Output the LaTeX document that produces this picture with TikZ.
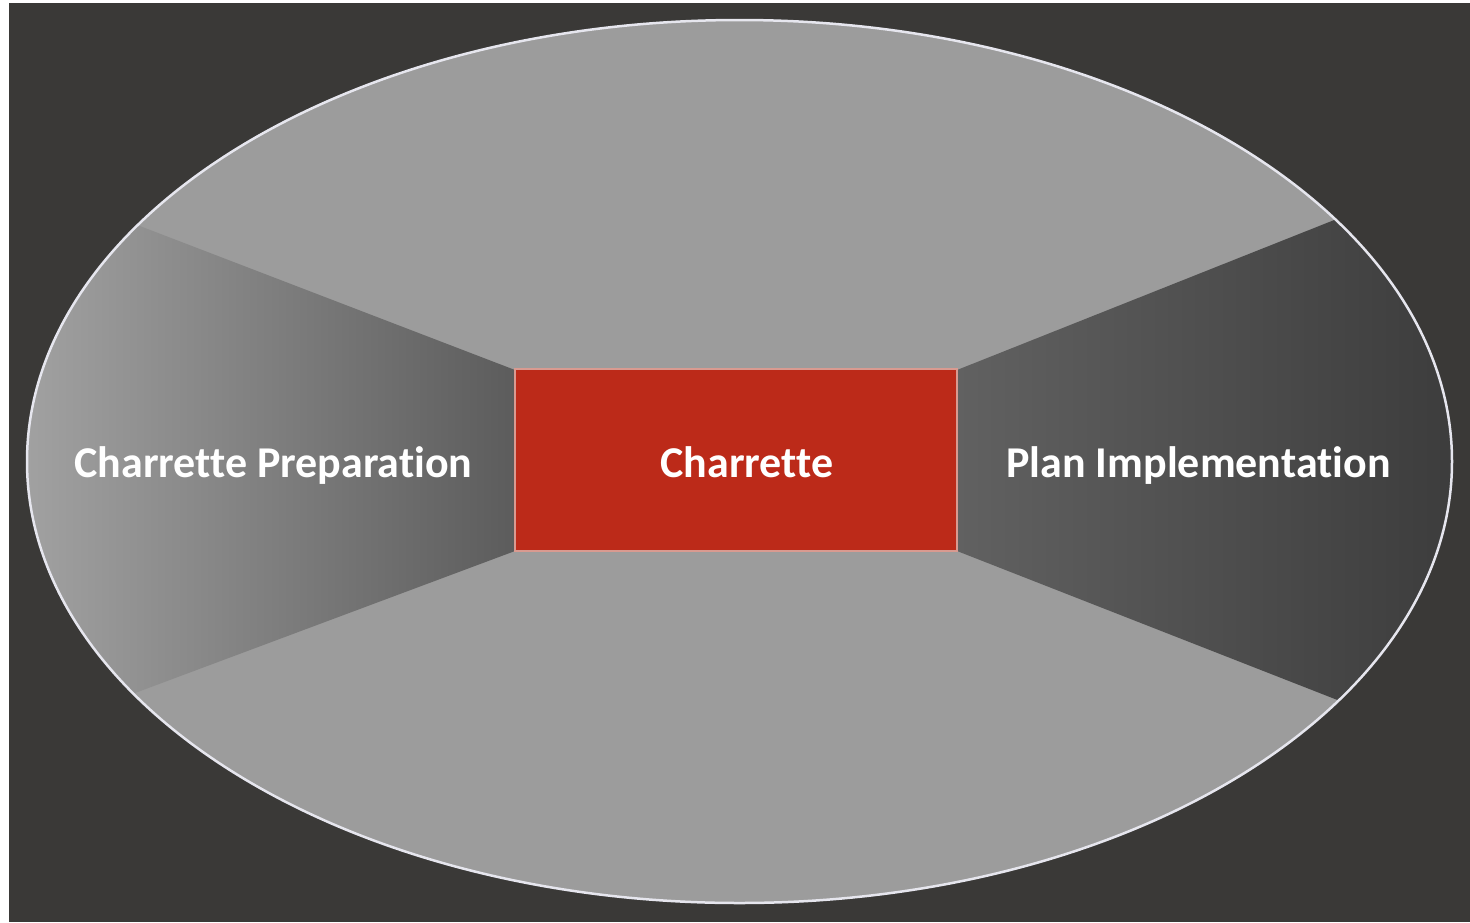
\documentclass[tikz,border=0pt]{standalone}
\usepackage{fontspec}
\setmainfont{Carlito}[Ligatures={NoCommon}]
\definecolor{bgdark}{HTML}{3A3937}
\definecolor{midgray}{HTML}{9C9C9C}
\definecolor{lpanelA}{HTML}{A2A2A2}
\definecolor{lpanelB}{HTML}{5C5C5C}
\definecolor{rpanelA}{HTML}{616161}
\definecolor{rpanelB}{HTML}{3C3C3C}
\definecolor{chred}{HTML}{BC2A19}
\definecolor{chedge}{HTML}{D99A90}
\definecolor{rimcol}{HTML}{E6E6EE}
\tikzset{
  lbl/.style={text=white, font=\fontsize{44}{50}\selectfont\bfseries, anchor=base, inner sep=0pt},
  redbox/.style={fill=chred, draw=chedge, line width=2pt, minimum width=442pt, minimum height=182pt, inner sep=0pt},
}
\begin{document}
\begin{tikzpicture}[x=1pt,y=-1pt]
\useasboundingbox (0,0) rectangle (1470,922);
\fill[white] (0,0) rectangle (1470,922);
\fill[bgdark] (9,3) rectangle (1470,922);
% ellipse body
\fill[midgray] (739.5,461.5) ellipse [x radius=712.5pt, y radius=441.5pt];
\begin{scope}
  \clip (739.5,461.5) ellipse [x radius=712.5pt, y radius=441.5pt];
  \shade[left color=lpanelA, right color=lpanelB] (515,370) -- (20,180) -- (20,736) -- (515,551) -- cycle;
  \shade[left color=rpanelA, right color=rpanelB] (957,370) -- (1460,170) -- (1460,748) -- (957,551) -- cycle;
\end{scope}
\draw[rimcol, line width=2.5pt] (739.5,461.5) ellipse [x radius=712.5pt, y radius=441.5pt];
% centre box
\node[redbox] (ch) at (736,460) {};
% labels
\node[lbl] (chl) at (747,477) {Charrette};
\node[lbl] (prep) at (273.5,477) {Charrette Preparation};
\node[lbl] (impl) at (1198.5,477) {Plan Implementation};
\end{tikzpicture}
\end{document}
